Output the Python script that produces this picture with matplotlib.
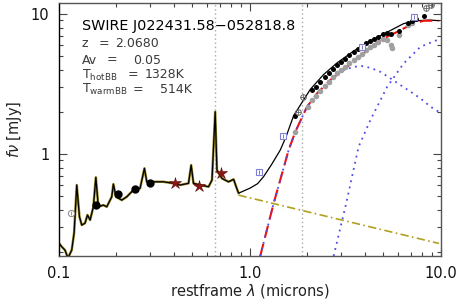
import matplotlib
matplotlib.use("Agg")
import matplotlib.pyplot as plt
from matplotlib.ticker import FixedLocator, FixedFormatter, NullFormatter
import numpy as np

plt.rcParams['font.family'] = ['DejaVu Sans']

## DATA (microns, mJy)

# QSO template (optical/UV part)
tmpl_wave = [0.100, 0.1033, 0.1075, 0.1114, 0.1166, 0.120, 0.1239, 0.128, 0.1316, 0.1369,
             0.141, 0.1456, 0.1514, 0.156, 0.1608, 0.1708, 0.178, 0.189, 0.1928, 0.199,
             0.2133, 0.2265, 0.2454, 0.266, 0.2805, 0.2885, 0.3126, 0.3527, 0.398, 0.4317,
             0.4775, 0.493, 0.507, 0.550, 0.608, 0.634, 0.659, 0.673, 0.715, 0.774,
             0.823, 0.849, 0.873]
tmpl_flux = [0.231, 0.218, 0.206, 0.181, 0.206, 0.273, 0.601, 0.357, 0.311, 0.321,
             0.367, 0.338, 0.420, 0.682, 0.420, 0.432, 0.420, 0.495, 0.610, 0.495,
             0.469, 0.495, 0.553, 0.569, 0.791, 0.634, 0.634, 0.634, 0.618, 0.601,
             0.618, 0.834, 0.618, 0.601, 0.584, 0.652, 2.005, 0.769, 0.670, 0.634,
             0.660, 0.584, 0.527]

# total model beyond the template
total_wave = [0.884, 1.006, 1.1, 1.181, 1.3, 1.445, 1.55, 1.698, 2.078, 2.439, 2.869,
              3.508, 4.29, 5.25, 6.41, 7.55, 8.86, 9.8]
total_flux = [0.529, 0.572, 0.615, 0.689, 0.84, 1.068, 1.33, 1.88, 2.90, 3.70, 4.48,
              5.45, 6.45, 7.42, 8.55, 8.97, 9.06, 8.97]

# power law continuum
pl_wave = [0.873, 9.8]
pl_flux = [0.509, 0.230]

# hot + warm blackbody sum
bb_wave = [1.135, 1.334, 1.599, 1.733, 1.996, 2.254, 2.647, 3.236, 3.955, 4.84,
           5.93, 7.10, 8.17, 9.8]
bb_flux = [0.187, 0.444, 1.068, 1.443, 2.177, 2.715, 3.379, 4.204, 5.24, 6.52,
           7.47, 8.48, 8.96, 8.96]

# hot blackbody (1328K)
hot_wave = [1.135, 1.334, 1.599, 1.733, 1.996, 2.254, 2.754, 3.108, 3.507, 3.88,
            4.29, 4.84, 5.47, 6.17, 6.96, 7.85, 8.86, 9.8]
hot_flux = [0.187, 0.444, 1.068, 1.443, 2.177, 2.70, 3.665, 3.98, 4.20, 4.25,
            4.13, 3.87, 3.47, 3.11, 2.79, 2.50, 2.18, 2.005]

# warm blackbody (514K)
warm_wave = [2.754, 3.203, 3.72, 4.29, 5.25, 6.41, 7.85, 9.8]
warm_flux = [0.187, 0.444, 1.127, 1.75, 3.02, 4.44, 5.84, 6.60]

# photometry
opt_wave = [0.1563, 0.2033, 0.2506, 0.2993]
opt_flux = [0.432, 0.518, 0.562, 0.618]
uv_wave = [0.1152]
uv_flux = [0.377]
star_wave = [0.4064, 0.5395, 0.7087]
star_flux = [0.621, 0.591, 0.728]
irac_wave = [1.112, 1.50, 3.88, 7.24]
irac_flux = [0.748, 1.345, 5.84, 9.47]
open_wave = [1.80, 1.90, 8.44, 8.97]
open_flux = [2.00, 2.57, 10.98, 11.6]

# IRS spectrum
irs_wave = [1.733, 2.121, 2.234, 2.344, 2.47, 2.592, 2.72, 2.87, 3.01, 3.17,
            3.33, 3.51, 3.68, 3.88, 4.07, 4.29, 4.50, 4.73, 4.98, 5.25,
            5.51, 6.04, 6.73, 7.10, 7.45, 8.17]
irs_flux = [1.877, 2.865, 3.027, 3.25, 3.53, 3.77, 4.03, 4.30, 4.54, 4.80,
            5.07, 5.38, 5.65, 5.91, 6.18, 6.45, 6.63, 6.88, 7.16, 7.31,
            7.16, 7.56, 8.67, 8.96, 9.25, 9.68]
irs2_wave = [1.733, 2.012, 2.121, 2.234, 2.344, 2.47, 2.592, 2.74, 2.87, 3.01,
             3.17, 3.33, 3.51, 3.68, 3.88, 4.07, 4.29, 4.50, 4.73, 4.98,
             5.25, 5.51, 5.60, 6.04, 6.73, 7.10]
irs2_flux = [1.443, 2.177, 2.43, 2.60, 2.83, 3.06, 3.28, 3.57, 3.81, 4.0,
             4.2, 4.45, 4.7, 4.95, 5.2, 5.5, 5.8, 6.05, 6.3, 6.6,
             6.5, 6.0, 5.7, 7.1, 8.3, 8.7]

lines_wave = [0.6563, 1.875]

title = 'SWIRE J022431.58\u2212052818.8'
info_names = ['z', 'Av', r'T$_{\rm hotBB}$', r'T$_{\rm warmBB}$']
info_values = ['2.0680', '0.05', '1328K', '514K']

## PLOT

W, H = 458, 305
fig = plt.figure(figsize=(W / 100, H / 100), dpi=100)
ax = fig.add_axes([59 / W, 1 - 256 / H, 381.5 / W, 253 / H])
ax.set_xscale('log')
ax.set_yscale('log')
ax.set_xlim(0.1, 10.0)
ax.set_ylim(0.187, 12.0)

for w in lines_wave:
    ax.axvline(w, color='#aaaaaa', ls=(0, (1, 2)), lw=1.0, zorder=1)

ax.plot(pl_wave, pl_flux, color='#b0a020', ls=(0, (5, 2, 1, 2)), lw=1.2, zorder=2)
ax.plot(tmpl_wave, tmpl_flux, color='#9a8a28', lw=1.8, zorder=2)
ax.plot(tmpl_wave + total_wave, tmpl_flux + total_flux, color='black', lw=0.9, zorder=3)
ax.plot(bb_wave, bb_flux, color='#ee1111', ls=(0, (6, 3)), lw=1.5, zorder=3)
ax.plot(hot_wave, hot_flux, color='#4a4aee', ls=(0, (1, 2.5)), lw=1.3, zorder=3)
ax.plot(warm_wave, warm_flux, color='#4a4aee', ls=(0, (1, 2.5)), lw=1.3, zorder=3)

ax.plot(irs2_wave, irs2_flux, 'o', color='#a0a0a0', ms=4, mec='none', zorder=4)
ax.plot(irs_wave, irs_flux, 'o', color='black', ms=3.6, mec='none', zorder=5)
ax.plot(opt_wave, opt_flux, 'o', color='black', ms=6, mec='none', zorder=5)
ax.plot(uv_wave, uv_flux, 'o', mfc='white', mec='#888888', ms=4.5, mew=0.7, zorder=5)
ax.plot(uv_wave, uv_flux, '|', color='#888888', ms=3, mew=0.6, zorder=6)
ax.plot(open_wave, open_flux, 'o', mfc='none', mec='#666666', ms=4, mew=0.7, zorder=5)
ax.plot(open_wave, open_flux, '+', color='#666666', ms=4, mew=0.6, zorder=6)
ax.plot(star_wave, star_flux, '*', color='#8b1515', ms=9, mec='#5a0a0a', mew=0.4, zorder=6)
ax.plot(irac_wave, irac_flux, 's', mfc='white', mec='#8080d8', ms=5, mew=0.8, zorder=6)
ax.plot(irac_wave, irac_flux, '|', color='#6060b0', ms=2.5, mew=0.6, zorder=7)

# axes styling, IDL look
for s in ax.spines.values():
    s.set_color('#555555')
    s.set_linewidth(1.0)
ax.spines['left'].set_color('black')
ax.tick_params(which='both', direction='in', top=True, right=True, colors='#444444',
               labelcolor='#111111', labelsize=10.5, pad=7)
ax.tick_params(which='major', length=6, width=0.8)
ax.tick_params(which='minor', length=3, width=0.8)
ax.xaxis.set_major_locator(FixedLocator([0.1, 1.0, 10.0]))
ax.xaxis.set_major_formatter(FixedFormatter(['0.1', '1.0', '10.0']))
ax.xaxis.set_minor_formatter(NullFormatter())
ax.yaxis.set_major_locator(FixedLocator([1.0, 10.0]))
ax.yaxis.set_major_formatter(FixedFormatter(['1', '10']))
ax.yaxis.set_minor_formatter(NullFormatter())

ax.set_xlabel(r'restframe $\lambda$ (microns)', fontsize=10.5, color='#222222', labelpad=1)
ax.set_ylabel(r'$f\nu$ [mJy]', fontsize=10.5, color='#222222', labelpad=5)

# annotation block, placed in pixels
def px(x, y):
    return x / W, 1 - y / H

fig.text(*px(82, 30), title, fontsize=10.4, color='black', va='baseline')
rows_y = [47, 63.5, 78.5, 93]
eq_x = [99, 107, 128, 133]
val_x = [115, 133, 145, 160]
for name, val, y, ex, vx in zip(info_names, info_values, rows_y, eq_x, val_x):
    fig.text(*px(82, y), name, fontsize=9, color='#3a3a3a', va='baseline')
    fig.text(*px(ex, y), '=', fontsize=9, color='#3a3a3a', va='baseline')
    fig.text(*px(vx, y), val, fontsize=9, color='#3a3a3a', va='baseline')

fig.savefig('out.png', dpi=100)
